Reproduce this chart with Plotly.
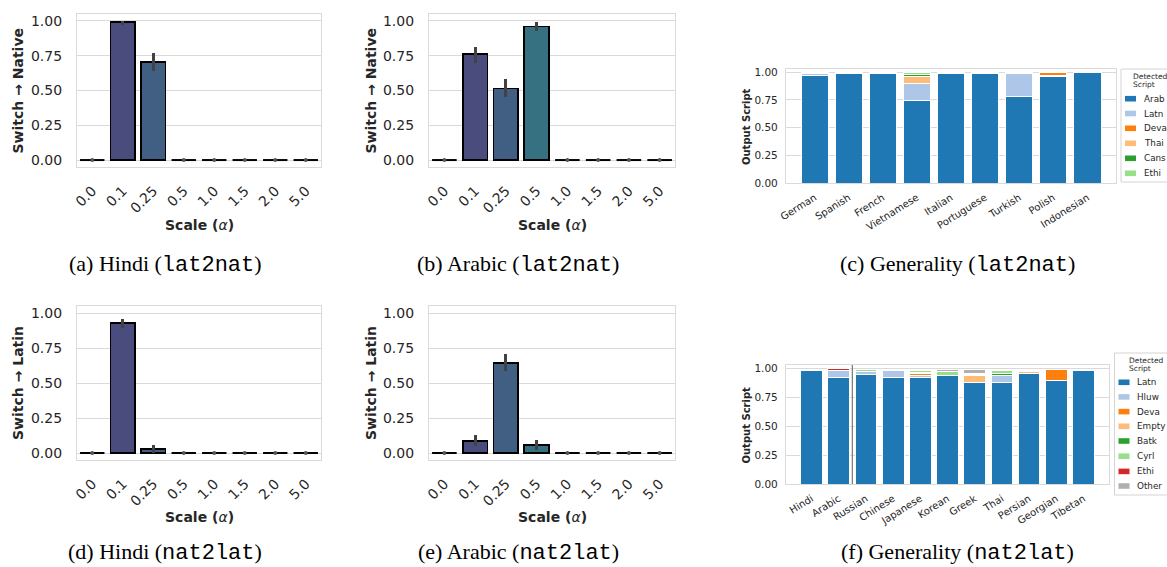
import plotly.graph_objects as go

W, H = 1167, 567          # browser window
OFF = 0                   # page body margin is removed by the post_script below
FW, FH = W - OFF, H - OFF

# ---------------- data ----------------
scales = ['0.0', '0.1', '0.25', '0.5', '1.0', '1.5', '2.0', '5.0']

hindi_lat2nat = [0.0, 0.99, 0.705, 0.0, 0.0, 0.0, 0.0, 0.0]
hindi_lat2nat_lo = [0.0, 0.97, 0.64, 0.0, 0.0, 0.0, 0.0, 0.0]
hindi_lat2nat_hi = [0.0, 1.0, 0.77, 0.0, 0.0, 0.0, 0.0, 0.0]

arabic_lat2nat = [0.0, 0.76, 0.515, 0.96, 0.0, 0.0, 0.0, 0.0]
arabic_lat2nat_lo = [0.0, 0.70, 0.45, 0.93, 0.0, 0.0, 0.0, 0.0]
arabic_lat2nat_hi = [0.0, 0.815, 0.58, 0.99, 0.0, 0.0, 0.0, 0.0]

hindi_nat2lat = [0.0, 0.93, 0.03, 0.0, 0.0, 0.0, 0.0, 0.0]
hindi_nat2lat_lo = [0.0, 0.89, 0.0, 0.0, 0.0, 0.0, 0.0, 0.0]
hindi_nat2lat_hi = [0.0, 0.96, 0.06, 0.0, 0.0, 0.0, 0.0, 0.0]

arabic_nat2lat = [0.0, 0.086, 0.645, 0.06, 0.0, 0.0, 0.0, 0.0]
arabic_nat2lat_lo = [0.0, 0.05, 0.585, 0.025, 0.0, 0.0, 0.0, 0.0]
arabic_nat2lat_hi = [0.0, 0.13, 0.71, 0.095, 0.0, 0.0, 0.0, 0.0]

# Generality (lat2nat)
gen_l2n_langs = ['German', 'Spanish', 'French', 'Vietnamese', 'Italian',
                 'Portuguese', 'Turkish', 'Polish', 'Indonesian']
gen_l2n_scripts = ['Arab', 'Latn', 'Deva', 'Thai', 'Cans', 'Ethi']
gen_l2n_Arab = [0.97, 0.99, 0.99, 0.745, 0.99, 0.99, 0.785, 0.965, 1.0]
gen_l2n_Latn = [0.02, 0.0, 0.0, 0.15, 0.0, 0.005, 0.2, 0.01, 0.0]
gen_l2n_Deva = [0.0, 0.0, 0.0, 0.0, 0.0, 0.0, 0.0, 0.02, 0.0]
gen_l2n_Thai = [0.01, 0.01, 0.01, 0.07, 0.01, 0.0, 0.01, 0.0, 0.0]
gen_l2n_Cans = [0.0, 0.0, 0.0, 0.015, 0.0, 0.0, 0.0, 0.0, 0.0]
gen_l2n_Ethi = [0.0, 0.0, 0.0, 0.02, 0.0, 0.0, 0.0, 0.0, 0.0]

# Generality (nat2lat)
gen_n2l_langs = ['Hindi', 'Arabic', 'Russian', 'Chinese', 'Japanese', 'Korean',
                 'Greek', 'Thai', 'Persian', 'Georgian', 'Tibetan']
gen_n2l_scripts = ['Latn', 'Hluw', 'Deva', 'Empty', 'Batk', 'Cyrl', 'Ethi', 'Other']
gen_n2l_Latn = [0.98, 0.92, 0.95, 0.92, 0.92, 0.935, 0.88, 0.88, 0.96, 0.895, 0.98]
gen_n2l_Hluw = [0.0, 0.065, 0.025, 0.06, 0.02, 0.005, 0.0, 0.055, 0.0, 0.0, 0.0]
gen_n2l_Deva = [0.0, 0.0, 0.0, 0.0, 0.02, 0.0, 0.0, 0.0, 0.0, 0.095, 0.0]
gen_n2l_Empty = [0.01, 0.0, 0.0, 0.0, 0.005, 0.0, 0.06, 0.0, 0.015, 0.005, 0.0]
gen_n2l_Batk = [0.0, 0.0, 0.0, 0.0, 0.0, 0.0, 0.0, 0.02, 0.0, 0.0, 0.0]
gen_n2l_Cyrl = [0.0, 0.0, 0.015, 0.0, 0.015, 0.03, 0.01, 0.025, 0.0, 0.0, 0.0]
gen_n2l_Ethi = [0.0, 0.012, 0.0, 0.0, 0.0, 0.0, 0.01, 0.0, 0.0, 0.0, 0.0]
gen_n2l_Other = [0.0, 0.0, 0.0, 0.01, 0.01, 0.02, 0.035, 0.01, 0.01, 0.0, 0.0]

# ---------------- styles ----------------
bar_palette = ['#5a3f7d', '#4a4c7e', '#405f82', '#367181', '#2f8380', '#47947a',
               '#75a56a', '#a5b858']
l2n_colors = ['#1f77b4', '#aec7e8', '#ff7f0e', '#ffbb78', '#2ca02c', '#98df8a']
n2l_colors = ['#1f77b4', '#aec7e8', '#ff7f0e', '#ffbb78', '#2ca02c', '#98df8a',
              '#d62728', '#b0b0b0']
GRID = '#dadada'
TXT = '#262626'
FONT = 'DejaVu Sans'

fig = go.Figure()


def fx(x):
    return (x - OFF) / FW


def fy(y):
    return 1 - (y - OFF) / FH


def px_dom_x(a, b):
    return [fx(a), fx(b)]


def px_dom_y(top, bottom):
    return [fy(bottom), fy(top)]


def ann(x, y, text, size, angle=0, family=FONT, color=TXT, xanchor='center'):
    fig.add_annotation(x=fx(x), y=fy(y), xref='paper', yref='paper',
                       text=text, showarrow=False, textangle=angle,
                       xanchor=xanchor, yanchor='middle',
                       font=dict(family=family, size=size, color=color))


def switch_panel(k, vals, lo, hi, ytitle, xpx, ypx, ytitle_x, xtitle_y):
    xa = 'x' if k == 1 else f'x{k}'
    ya = 'y' if k == 1 else f'y{k}'
    xs = list(range(len(scales)))
    nz = [i for i, v in enumerate(vals) if v > 0]
    z = [i for i, v in enumerate(vals) if v == 0]
    fig.add_trace(go.Bar(
        x=[xs[i] for i in nz], y=[vals[i] for i in nz], width=0.8,
        marker=dict(color=[bar_palette[i] for i in nz],
                    line=dict(color='black', width=1.8)),
        error_y=dict(type='data', symmetric=False,
                     array=[hi[i] - vals[i] for i in nz],
                     arrayminus=[vals[i] - lo[i] for i in nz],
                     color='#424242', thickness=3.2, width=0),
        xaxis=xa, yaxis=ya, showlegend=False, hoverinfo='skip'))
    lx, ly = [], []
    for i in z:
        lx += [xs[i] - 0.4, xs[i] + 0.4, None]
        ly += [vals[i], vals[i], None]
    fig.add_trace(go.Scatter(x=lx, y=ly, mode='lines',
                             line=dict(color='black', width=2),
                             xaxis=xa, yaxis=ya, showlegend=False, hoverinfo='skip'))
    fig.add_trace(go.Scatter(x=[xs[i] for i in z], y=[vals[i] for i in z], mode='markers',
                             marker=dict(color='#555555', size=4),
                             xaxis=xa, yaxis=ya, showlegend=False, hoverinfo='skip'))
    key = 'xaxis' if k == 1 else f'xaxis{k}'
    ykey = 'yaxis' if k == 1 else f'yaxis{k}'
    fig.layout[key] = dict(domain=px_dom_x(*xpx), anchor=ya, range=[-0.5, 7.5],
                           tickvals=xs, ticktext=scales, tickangle=-45,
                           showgrid=False, zeroline=False, showline=True,
                           linecolor=GRID, linewidth=1.2, mirror=True, ticks='',
                           automargin=False, ticklabelstandoff=9,
                           tickfont=dict(family=FONT, size=14, color=TXT))
    fig.layout[ykey] = dict(domain=px_dom_y(*ypx), anchor=xa, range=[-0.05, 1.05],
                            tickvals=[0, 0.25, 0.5, 0.75, 1.0], tickformat='.2f',
                            showgrid=True, gridcolor=GRID, gridwidth=1.2, zeroline=False,
                            showline=True, linecolor=GRID, linewidth=1.2, mirror=True,
                            ticks='', automargin=False, ticklabelstandoff=11,
                            tickfont=dict(family=FONT, size=14, color=TXT))
    ann(ytitle_x, (ypx[0] + ypx[1]) / 2, f'<b>{ytitle}</b>', 14, angle=-90)
    ann((xpx[0] + xpx[1]) / 2, xtitle_y, '<b>Scale (</b><i>α</i><b>)</b>', 14)


switch_panel(1, hindi_lat2nat, hindi_lat2nat_lo, hindi_lat2nat_hi,
             'Switch → Native', (77, 321), (14, 167), 18, 225)
switch_panel(2, arabic_lat2nat, arabic_lat2nat_lo, arabic_lat2nat_hi,
             'Switch → Native', (429, 675), (14, 167), 371, 225)
switch_panel(4, hindi_nat2lat, hindi_nat2lat_lo, hindi_nat2lat_hi,
             'Switch → Latin', (77, 321), (306, 460), 18, 517)
switch_panel(5, arabic_nat2lat, arabic_nat2lat_lo, arabic_nat2lat_hi,
             'Switch → Latin', (429, 675), (306, 460), 371, 517)


def legend_box(box_px, title_x, title_ys, sw_x, rows_y, text_x, names, colors):
    x0, y0, y1 = box_px
    fig.add_shape(type='rect', xref='paper', yref='paper',
                  x0=fx(x0), x1=fx(W + 30), y0=fy(y1), y1=fy(y0),
                  line=dict(color='#d4d4d4', width=1), fillcolor='white', layer='above')
    for t, ty in zip(['Detected', 'Script'], title_ys):
        ann(title_x, ty, t, 7.5, xanchor='left')
    for name, col, ry in zip(names, colors, rows_y):
        fig.add_shape(type='rect', xref='paper', yref='paper',
                      x0=fx(sw_x[0]), x1=fx(sw_x[1]),
                      y0=fy(ry + 2.8), y1=fy(ry - 2.8),
                      line=dict(width=0), fillcolor=col, layer='above')
        ann(text_x, ry, name, 8.8, xanchor='left')


def gen_panel(k, langs, scripts, series, colors, xpx, ypx):
    xa, ya = f'x{k}', f'y{k}'
    xs = list(range(len(langs)))
    for name, vals, col in zip(scripts, series, colors):
        fig.add_trace(go.Bar(x=xs, y=vals, name=name, width=0.8,
                             marker=dict(color=col, line=dict(color='white', width=1)),
                             xaxis=xa, yaxis=ya, showlegend=False, hoverinfo='skip'))
    n = len(langs)
    m = (n - 1 + 0.8) * 0.05
    fig.layout[f'xaxis{k}'] = dict(domain=px_dom_x(*xpx), anchor=ya,
                                   range=[-0.4 - m, n - 1 + 0.4 + m],
                                   tickvals=xs, ticktext=langs, tickangle=-32,
                                   showgrid=False, zeroline=False, showline=True,
                                   linecolor=GRID, linewidth=1.2, mirror=True, ticks='',
                                   automargin=False, ticklabelstandoff=4,
                                   tickfont=dict(family=FONT, size=10, color=TXT))
    fig.layout[f'yaxis{k}'] = dict(domain=px_dom_y(*ypx), anchor=xa, range=[0, 1.03],
                                   tickvals=[0, 0.25, 0.5, 0.75, 1.0], tickformat='.2f',
                                   showgrid=True, gridcolor=GRID, gridwidth=1.2,
                                   zeroline=False, showline=True, linecolor=GRID,
                                   linewidth=1.2, mirror=True, ticks='',
                                   automargin=False, ticklabelstandoff=5,
                                   tickfont=dict(family=FONT, size=10.5, color=TXT))
    ann(746, (ypx[0] + ypx[1]) / 2, '<b>Output Script</b>', 10, angle=-90)


gen_panel(3, gen_l2n_langs, gen_l2n_scripts,
          [gen_l2n_Arab, gen_l2n_Latn, gen_l2n_Deva, gen_l2n_Thai, gen_l2n_Cans, gen_l2n_Ethi],
          l2n_colors, (786, 1116), (69, 183))
gen_panel(6, gen_n2l_langs, gen_n2l_scripts,
          [gen_n2l_Latn, gen_n2l_Hluw, gen_n2l_Deva, gen_n2l_Empty, gen_n2l_Batk,
           gen_n2l_Cyrl, gen_n2l_Ethi, gen_n2l_Other],
          n2l_colors, (786, 1109), (365, 484))

legend_box((1121, 69, 182), 1130.5, (77, 85), (1125, 1136),
           [98.7, 113.5, 128.3, 143.3, 158.3, 173.3], 1141.5, gen_l2n_scripts, l2n_colors)
legend_box((1114.5, 353, 495), 1127, (360.5, 368.5), (1118.5, 1129.5),
           [382.3, 396.9, 411.6, 426.3, 441, 456.2, 471.4, 486], 1135,
           gen_n2l_scripts, n2l_colors)

# thin divider line seen in panel (f)
fig.add_shape(type='line', xref='x6', yref='y6 domain', x0=1.5, x1=1.5, y0=0, y1=1,
              line=dict(color='#777777', width=1.2))

# captions
MONO = "font-family:'Liberation Mono'"
captions = [
    (165, 265, f"(a) Hindi (<span style=\"{MONO}\">lat2nat</span>)"),
    (518, 265, f"(b) Arabic (<span style=\"{MONO}\">lat2nat</span>)"),
    (957, 265, f"(c) Generality (<span style=\"{MONO}\">lat2nat</span>)"),
    (165, 552, f"(d) Hindi (<span style=\"{MONO}\">nat2lat</span>)"),
    (518, 552, f"(e) Arabic (<span style=\"{MONO}\">nat2lat</span>)"),
    (957, 552, f"(f) Generality (<span style=\"{MONO}\">nat2lat</span>)"),
]
for cx, cy, t in captions:
    ann(cx, cy, t, 22, family='Liberation Serif', color='black')

fig.update_layout(width=FW, height=FH, margin=dict(l=0, r=0, t=0, b=0),
                  paper_bgcolor='white', plot_bgcolor='white',
                  barmode='stack', bargap=0.2, showlegend=False)

fig.write_html('out.html',
               config={'displayModeBar': False},
               post_script="document.body.style.margin='0';"
                           "document.body.style.overflow='hidden';")
